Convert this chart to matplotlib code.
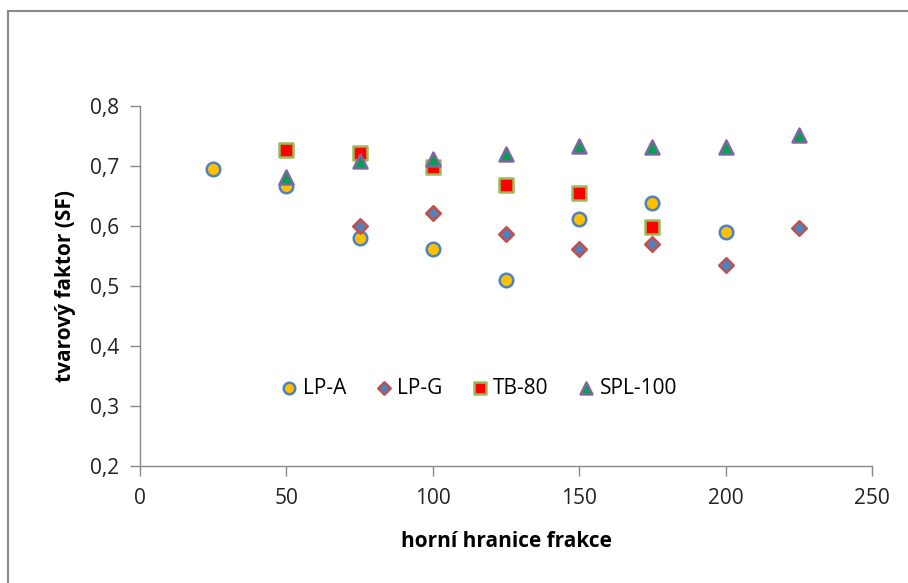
import matplotlib
matplotlib.use("Agg")
import matplotlib.pyplot as plt
from matplotlib.patches import Rectangle

plt.rcParams['font.family'] = ['Open Sans', 'DejaVu Sans']

lpa_x = [25, 50, 75, 100, 125, 150, 175, 200]
lpa_y = [0.695, 0.667, 0.580, 0.562, 0.510, 0.612, 0.638, 0.590]
lpg_x = [75, 100, 125, 150, 175, 200, 225]
lpg_y = [0.600, 0.622, 0.587, 0.562, 0.570, 0.535, 0.597]
tb_x = [50, 75, 100, 125, 150, 175]
tb_y = [0.727, 0.722, 0.698, 0.668, 0.655, 0.598]
spl_x = [50, 75, 100, 125, 150, 175, 200, 225]
spl_y = [0.682, 0.708, 0.712, 0.720, 0.733, 0.732, 0.732, 0.752]

xticks = [0, 50, 100, 150, 200, 250]
yticks = [0.2, 0.3, 0.4, 0.5, 0.6, 0.7, 0.8]
ytick_labels = ['0,2', '0,3', '0,4', '0,5', '0,6', '0,7', '0,8']

fig = plt.figure(figsize=(9.08, 5.83), dpi=100)
ax = fig.add_axes([140/908, 1-466/583, (872-140)/908, (466-106)/583])

ax.scatter(lpa_x, lpa_y, marker='o', s=95, c='#FFC000', edgecolors='#4F81BD', linewidths=1.8, label='LP-A', zorder=3)
ax.scatter(lpg_x, lpg_y, marker='D', s=55, c='#4F81BD', edgecolors='#C0504D', linewidths=1.8, label='LP-G', zorder=3)
ax.scatter(tb_x, tb_y, marker='s', s=95, c='#FF0000', edgecolors='#9BBB59', linewidths=1.8, label='TB-80', zorder=3)
ax.scatter(spl_x, spl_y, marker='^', s=100, c='#00A050', edgecolors='#8064A2', linewidths=1.8, label='SPL-100', zorder=3)

ax.set_xlim(0, 250)
ax.set_ylim(0.2, 0.8)
ax.set_xticks(xticks)
ax.set_xticklabels([str(v) for v in xticks])
ax.set_yticks(yticks)
ax.set_yticklabels(ytick_labels)
for s in ['top', 'right']:
    ax.spines[s].set_visible(False)
for s in ['left', 'bottom']:
    ax.spines[s].set_color('#898989')
    ax.spines[s].set_linewidth(1.0)
ax.tick_params(axis='both', direction='out', length=7, width=1.0, color='#898989',
               labelsize=15, labelcolor='#222222', pad=8)
ax.tick_params(axis='x', pad=9)

ax.set_xlabel('horní hranice frakce', fontsize=15, fontweight='bold', labelpad=16)
ax.set_ylabel('tvarový faktor (SF)', fontsize=15, fontweight='bold', labelpad=10)

leg = ax.legend(loc='center', bbox_to_anchor=((478-140)/732, (466-388)/360), ncol=4,
                frameon=False, fontsize=15, handletextpad=0.15, columnspacing=1.3,
                handlelength=1.0, markerscale=0.85, borderaxespad=0)

fig.patches.append(Rectangle((8/908, -0.05), 1.2, 1.05 - 11/583, transform=fig.transFigure,
                             fill=False, edgecolor='#898989', linewidth=1.5))

fig.savefig('out.png', dpi=100)
